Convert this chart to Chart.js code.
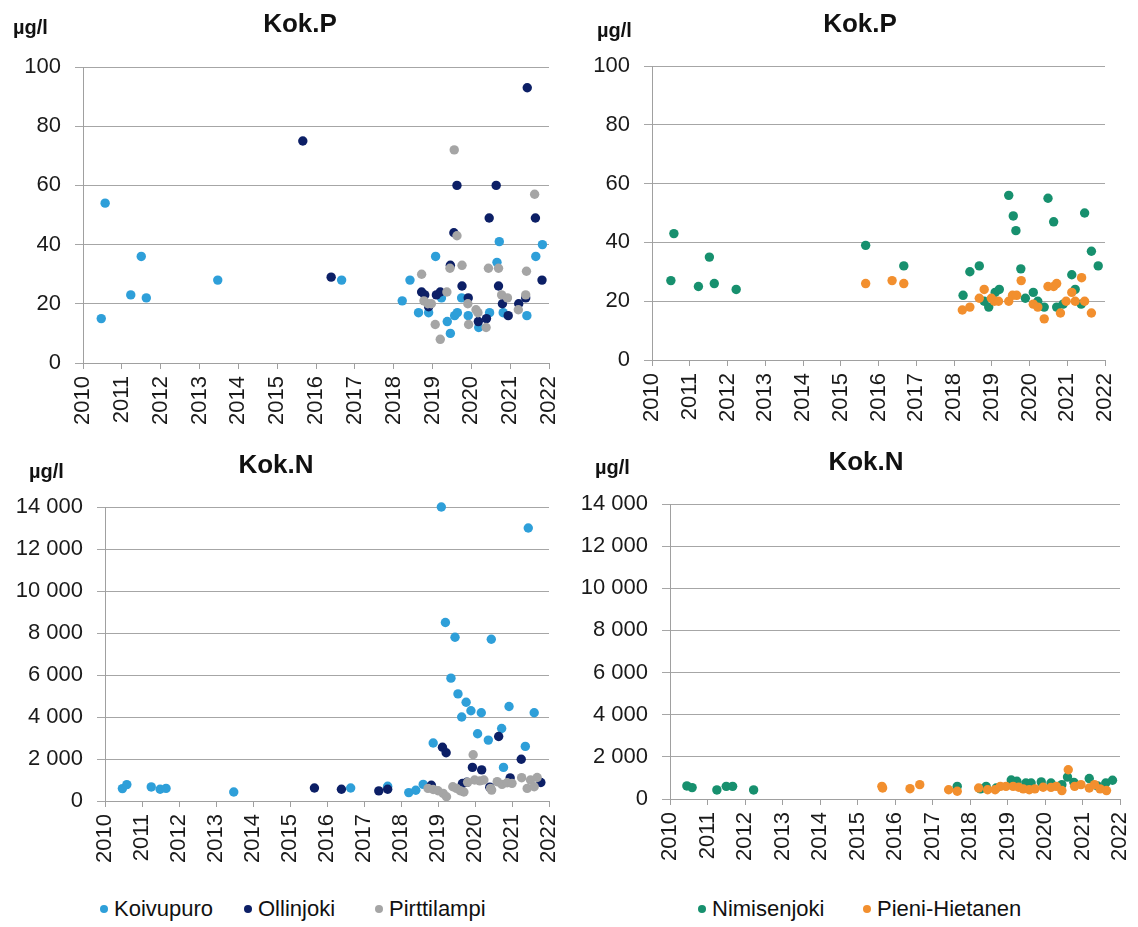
<!DOCTYPE html>
<html>
<head>
<meta charset="utf-8">
<title>Kok.P / Kok.N</title>
<script src="https://cdn.jsdelivr.net/npm/chart.js@4.4.1/dist/chart.umd.min.js"></script>
<style>
    body { margin: 0; background: #fff; font-family: 'Liberation Sans', Arial, sans-serif; color: #111; }
    #page { position: relative; width: 1138px; height: 927px; overflow: hidden; }
    .panel { position: absolute; width: 569px; height: 440px; }
    .title { position: absolute; font-weight: bold; font-size: 26px; transform: translate(-50%, -50%); white-space: nowrap; }
    .unit { position: absolute; font-weight: bold; font-size: 20px; transform: translateY(-50%); white-space: nowrap; }
    .item { position: absolute; top: 909px; transform: translateY(-50%); font-size: 22px; display: flex; align-items: center; white-space: nowrap; }
    .dot { display: inline-block; width: 8px; height: 8px; border-radius: 50%; margin-right: 6px; }
</style>
</head>
<body>
<div id="page">
    <canvas id="chartP1" class="panel" width="569" height="440" style="left:0;top:0"></canvas>
    <canvas id="chartP2" class="panel" width="569" height="440" style="left:568px;top:0"></canvas>
    <canvas id="chartN1" class="panel" width="569" height="440" style="left:0;top:440px"></canvas>
    <canvas id="chartN2" class="panel" width="569" height="440" style="left:568px;top:440px"></canvas>

    <div class="title" style="left:300px;top:23px">Kok.P</div>
    <div class="unit" style="left:13px;top:27px">µg/l</div>
    <div class="title" style="left:860px;top:23px">Kok.P</div>
    <div class="unit" style="left:597px;top:30px">µg/l</div>
    <div class="title" style="left:276px;top:464px">Kok.N</div>
    <div class="unit" style="left:29px;top:471px">µg/l</div>
    <div class="title" style="left:866px;top:461px">Kok.N</div>
    <div class="unit" style="left:595px;top:467px">µg/l</div>

    <div class="item" style="left:100px"><span class="dot" style="background:#2e9fd9"></span>Koivupuro</div>
    <div class="item" style="left:244px"><span class="dot" style="background:#0c1f66"></span>Ollinjoki</div>
    <div class="item" style="left:375px"><span class="dot" style="background:#a5a5a5"></span>Pirttilampi</div>
    <div class="item" style="left:698px"><span class="dot" style="background:#17906e"></span>Nimisenjoki</div>
    <div class="item" style="left:863px"><span class="dot" style="background:#f28f2e"></span>Pieni-Hietanen</div>
</div>

<script>
// Year axis
const yearMin = 2010;
const yearMax = 2022;

// Kok.P, µg/l  [year, value]
const koivupuroP = [
    [2010.47, 15], [2010.57, 54], [2011.23, 23], [2011.5, 36], [2011.63, 22], [2013.47, 28], [2016.66, 28],
    [2018.22, 21], [2018.42, 28], [2018.64, 17], [2018.9, 17], [2019.08, 36], [2019.23, 22], [2019.38, 14],
    [2019.46, 10], [2019.57, 16], [2019.64, 17], [2019.75, 22], [2019.92, 16], [2020.19, 12], [2020.47, 17],
    [2020.66, 34], [2020.72, 41], [2020.82, 17], [2021.43, 16], [2021.66, 36], [2021.83, 40]
];
const ollinjokiP = [
    [2015.66, 75], [2016.39, 29], [2018.72, 24], [2018.8, 23], [2018.9, 19], [2019.1, 23], [2019.2, 24],
    [2019.46, 33], [2019.55, 44], [2019.63, 60], [2019.76, 26], [2019.92, 22], [2020.18, 14], [2020.39, 15],
    [2020.46, 49], [2020.64, 60], [2020.7, 26], [2020.8, 20], [2020.95, 16], [2021.22, 20], [2021.4, 22],
    [2021.44, 93], [2021.65, 49], [2021.82, 28]
];
const pirttilampiP = [
    [2018.72, 30], [2018.78, 21], [2018.88, 20], [2018.97, 20], [2019.07, 13], [2019.2, 8], [2019.37, 24],
    [2019.45, 32], [2019.56, 72], [2019.63, 43], [2019.76, 33], [2019.91, 20], [2019.93, 13], [2020.12, 18],
    [2020.17, 17], [2020.38, 12], [2020.44, 32], [2020.7, 32], [2020.78, 23], [2020.93, 22], [2021.21, 18],
    [2021.4, 23], [2021.42, 31], [2021.63, 57]
];
const nimisenjokiP = [
    [2010.5, 27], [2010.58, 43], [2011.23, 25], [2011.52, 35], [2011.65, 26], [2012.23, 24], [2015.66, 39],
    [2016.67, 32], [2018.24, 22], [2018.42, 30], [2018.67, 32], [2018.8, 20], [2018.92, 18], [2019.09, 23],
    [2019.2, 24], [2019.45, 56], [2019.57, 49], [2019.64, 44], [2019.77, 31], [2019.89, 21], [2020.1, 23],
    [2020.22, 20], [2020.39, 18], [2020.49, 55], [2020.64, 47], [2020.72, 18], [2020.89, 19], [2021.12, 29],
    [2021.21, 24], [2021.37, 19], [2021.46, 50], [2021.64, 37], [2021.82, 32]
];
const pieniHietanenP = [
    [2015.66, 26], [2016.36, 27], [2016.67, 26], [2018.22, 17], [2018.42, 18], [2018.67, 21], [2018.8, 24],
    [2018.99, 21], [2019.07, 20], [2019.18, 20], [2019.45, 20], [2019.55, 22], [2019.66, 22], [2019.78, 27],
    [2020.1, 19], [2020.22, 18], [2020.39, 14], [2020.49, 25], [2020.64, 25], [2020.72, 26], [2020.82, 16],
    [2020.97, 20], [2021.12, 23], [2021.21, 20], [2021.38, 28], [2021.46, 20], [2021.64, 16]
];

// Kok.N, µg/l  [year, value]
const koivupuroN = [
    [2010.47, 590], [2010.59, 780], [2011.25, 670], [2011.49, 560], [2011.65, 600], [2013.48, 430],
    [2016.64, 620], [2017.64, 700], [2018.21, 400], [2018.4, 510], [2018.6, 790], [2018.87, 2760],
    [2019.09, 14000], [2019.2, 8500], [2019.35, 5850], [2019.46, 7800], [2019.54, 5100], [2019.64, 4000],
    [2019.76, 4700], [2019.89, 4300], [2020.07, 3200], [2020.17, 4200], [2020.36, 2900], [2020.44, 7700],
    [2020.72, 3450], [2020.77, 1600], [2020.92, 4500], [2021.36, 2600], [2021.44, 13000], [2021.6, 4200]
];
const ollinjokiN = [
    [2015.66, 620], [2016.39, 560], [2017.4, 480], [2017.64, 560], [2018.82, 750], [2019.12, 2560],
    [2019.22, 2300], [2019.66, 830], [2019.78, 890], [2019.93, 1600], [2020.18, 1480], [2020.4, 660],
    [2020.64, 3070], [2020.95, 1100], [2021.25, 1990], [2021.78, 880]
];
const pirttilampiN = [
    [2018.73, 600], [2018.87, 550], [2019.0, 490], [2019.14, 360], [2019.23, 200], [2019.4, 680],
    [2019.5, 600], [2019.6, 490], [2019.7, 430], [2019.8, 890], [2019.95, 2200], [2019.99, 1000],
    [2020.13, 960], [2020.24, 1000], [2020.42, 600], [2020.45, 520], [2020.6, 920], [2020.73, 790],
    [2020.87, 870], [2021.0, 840], [2021.26, 1110], [2021.41, 600], [2021.5, 1000], [2021.6, 680],
    [2021.68, 1120]
];
const nimisenjokiN = [
    [2010.45, 620], [2010.59, 540], [2011.25, 430], [2011.5, 600], [2011.67, 600], [2012.23, 430],
    [2017.66, 600], [2018.28, 480], [2018.43, 600], [2018.7, 520], [2019.1, 900], [2019.25, 840],
    [2019.49, 760], [2019.63, 760], [2019.9, 810], [2020.16, 760], [2020.45, 680], [2020.6, 1040],
    [2020.77, 790], [2021.18, 970], [2021.4, 620], [2021.62, 760], [2021.8, 890]
];
const pieniHietanenN = [
    [2015.65, 600], [2015.67, 520], [2016.4, 490], [2016.66, 680], [2017.43, 440], [2017.66, 370],
    [2018.23, 520], [2018.47, 440], [2018.67, 440], [2018.81, 600], [2018.96, 600], [2019.15, 600],
    [2019.3, 560], [2019.42, 480], [2019.58, 440], [2019.73, 480], [2019.95, 560], [2020.16, 550],
    [2020.3, 600], [2020.45, 400], [2020.62, 1390], [2020.79, 600], [2020.96, 680], [2021.18, 520],
    [2021.32, 680], [2021.47, 480], [2021.64, 400]
];

const colors = {
    koivupuro: '#2e9fd9',
    ollinjoki: '#0c1f66',
    pirttilampi: '#a5a5a5',
    nimisenjoki: '#17906e',
    pieniHietanen: '#f28f2e'
};

const fontFamily = "'Liberation Sans', Arial, sans-serif";

// later series are painted on top (like the original spreadsheet chart)
function series(label, points, color, layer) {
    return {
        label: label,
        data: points.map(p => ({ x: p[0], y: p[1] })),
        backgroundColor: color,
        borderWidth: 0,
        pointRadius: 4.7,
        pointHoverRadius: 4.7,
        order: -layer,
        clip: false
    };
}

// thousands with a space, e.g. 14 000
function fmtThousands(v) {
    return String(v).replace(/\B(?=(\d{3})+(?!\d))/g, '\u00a0');
}

function makeChart(id, datasets, yMax, yStep, box) {
    new Chart(document.getElementById(id), {
        type: 'scatter',
        data: { datasets: datasets },
        options: {
            responsive: false,
            animation: false,
            layout: { padding: { top: box.top, right: box.right, left: 0, bottom: 0 } },
            plugins: {
                legend: { display: false },
                tooltip: { enabled: false }
            },
            scales: {
                x: {
                    type: 'linear',
                    min: yearMin,
                    max: yearMax,
                    afterFit: s => {
                        s.height = box.xh;
                        // let the layout padding decide the plot edges
                        s.paddingLeft = 0;
                        s.paddingRight = 0;
                    },
                    ticks: {
                        stepSize: 1,
                        autoSkip: false,
                        minRotation: 90,
                        maxRotation: 90,
                        padding: 7,
                        color: '#1a1a1a',
                        font: { family: fontFamily, size: 22 },
                        callback: v => String(v)
                    },
                    grid: { drawOnChartArea: false, drawTicks: true, tickLength: 6, color: '#a0a0a0' },
                    border: { color: '#a0a0a0' }
                },
                y: {
                    min: 0,
                    max: yMax,
                    afterFit: s => {
                        s.width = box.left;
                        s.paddingTop = 0;
                        s.paddingBottom = 0;
                    },
                    ticks: {
                        stepSize: yStep,
                        padding: 14,
                        color: '#1a1a1a',
                        font: { family: fontFamily, size: 22 },
                        callback: v => fmtThousands(v)
                    },
                    grid: { color: '#a6a6a6', drawTicks: true, tickLength: 8 },
                    border: { color: '#a0a0a0' }
                }
            }
        }
    });
}

makeChart('chartP1', [
    series('Koivupuro', koivupuroP, colors.koivupuro, 0),
    series('Ollinjoki', ollinjokiP, colors.ollinjoki, 1),
    series('Pirttilampi', pirttilampiP, colors.pirttilampi, 2)
], 100, 20, { left: 83, right: 20, top: 67, xh: 77 });

makeChart('chartP2', [
    series('Nimisenjoki', nimisenjokiP, colors.nimisenjoki, 0),
    series('Pieni-Hietanen', pieniHietanenP, colors.pieniHietanen, 1)
], 100, 20, { left: 84, right: 32, top: 66, xh: 80 });

makeChart('chartN1', [
    series('Koivupuro', koivupuroN, colors.koivupuro, 0),
    series('Ollinjoki', ollinjokiN, colors.ollinjoki, 1),
    series('Pirttilampi', pirttilampiN, colors.pirttilampi, 2)
], 14000, 2000, { left: 105, right: 20, top: 67, xh: 79 });

makeChart('chartN2', [
    series('Nimisenjoki', nimisenjokiN, colors.nimisenjoki, 0),
    series('Pieni-Hietanen', pieniHietanenN, colors.pieniHietanen, 1)
], 14000, 2000, { left: 102, right: 17, top: 64, xh: 81 });
</script>
</body>
</html>
